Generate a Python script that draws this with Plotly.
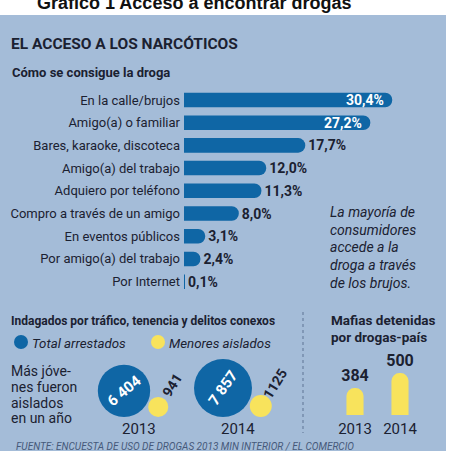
import math
import plotly.graph_objects as go

W = H = 451

# ---------------- data ----------------
categories = ["En la calle/brujos", "Amigo(a) o familiar", "Bares, karaoke, discoteca",
              "Amigo(a) del trabajo", "Adquiero por teléfono", "Compro a través de un amigo",
              "En eventos públicos", "Por amigo(a) del trabajo", "Por Internet"]
shares = [30.4, 27.2, 17.7, 12.0, 11.3, 8.0, 3.1, 2.4, 0.1]
share_labels = ["30,4%", "27,2%", "17,7%", "12,0%", "11,3%", "8,0%", "3,1%", "2,4%", "0,1%"]

years = [2013, 2014]
year_labels = ["2013", "2014"]
total_arrested = [6404, 7857]
arrested_labels = ["6 404", "7 857"]
minors_isolated = [941, 1125]
minors_labels = ["941", "1125"]

mafia_years = ["2013", "2014"]
mafias = [384, 500]
mafia_labels = ["384", "500"]

note_lines = ["La mayoría de", "consumidores", "accede a la", "droga a través", "de los brujos."]
side_lines = ["Más jóve-", "nes fueron", "aislados", "en un año"]

# ---------------- style ----------------
PANEL = "#a4bcd8"
BLUE = "#0f66a5"
YELLOW = "#f8e35c"
INK = "#1b2131"
FONT = "Roboto, Liberation Sans, sans-serif"


def px(x):
    return x / W


def py(y):
    return 1 - y / H


fig = go.Figure()

# ---- horizontal bars ----
inside = [v > 20 for v in shares]
fig.add_trace(go.Bar(
    y=categories, x=shares, orientation="h",
    marker=dict(color=BLUE, line=dict(width=0)),
    width=0.64,
    text=[("" if ins else t) for t, ins in zip(share_labels, inside)],
    textposition="outside",
    outsidetextfont=dict(color=INK, size=14, family=FONT, weight="bold"),
    constraintext="none", cliponaxis=False,
    xaxis="x", yaxis="y", showlegend=False, hoverinfo="skip",
))

# ---- bubbles ----
SIZEREF = 4.67
PX_PER_YEAR = 99.0
BUBBLE_BASE = 417  # pixel row where bubbles rest


def radius(v):
    return math.sqrt(v / (2 * SIZEREF))


r_blue = [radius(v) for v in total_arrested]
r_yel = [radius(v) for v in minors_isolated]
yel_x = [yr + (rb + 0.8 * ry) / PX_PER_YEAR for yr, rb, ry in zip(years, r_blue, r_yel)]

fig.add_trace(go.Scatter(
    x=years, y=[BUBBLE_BASE - r for r in r_blue], mode="markers",
    marker=dict(size=total_arrested, sizemode="area", sizeref=SIZEREF, color=BLUE,
                line=dict(width=0), opacity=1),
    xaxis="x2", yaxis="y2", showlegend=False, hoverinfo="skip",
))
fig.add_trace(go.Scatter(
    x=yel_x, y=[BUBBLE_BASE - r for r in r_yel], mode="markers",
    marker=dict(size=minors_isolated, sizemode="area", sizeref=SIZEREF, color=YELLOW,
                line=dict(width=0), opacity=1),
    xaxis="x2", yaxis="y2", showlegend=False, hoverinfo="skip",
))

# ---- mafias bars ----
fig.add_trace(go.Bar(
    x=mafia_years, y=mafias, width=0.38,
    marker=dict(color=YELLOW, line=dict(width=0)),
    text=mafia_labels, textposition="outside",
    outsidetextfont=dict(color=INK, size=16, family=FONT, weight="bold"),
    cliponaxis=False, constraintext="none",
    xaxis="x3", yaxis="y3", showlegend=False, hoverinfo="skip",
))

annotations = []


def para(text, x, y, size, bold=False, italic=False, color=INK, family=FONT):
    t = text
    if bold:
        t = f"<b>{t}</b>"
    if italic:
        t = f"<i>{t}</i>"
    annotations.append(dict(text=t, x=px(x), y=py(y), xref="paper", yref="paper",
                            xanchor="left", yanchor="middle", align="left", showarrow=False,
                            font=dict(family=family, size=size, color=color)))


# inside labels of the long bars
for cat, v, lab, ins in zip(categories, shares, share_labels, inside):
    if ins:
        annotations.append(dict(text=f"<b>{lab}</b>", x=v, y=cat, xref="x", yref="y",
                                xanchor="right", yanchor="middle", xshift=-6, showarrow=False,
                                font=dict(family=FONT, size=14, color="white")))

# title (partly cut off at the top edge, as in the reference)
para("Gráfico 1 Acceso a encontrar drogas", 35, 3, 18, bold=True, color="#111",
     family="Liberation Sans, Arial, sans-serif")
para("EL ACCESO A LOS NARCÓTICOS", 9, 44, 15.5, bold=True)
para("Cómo se consigue la droga", 10, 72, 13, bold=True)
for i, line in enumerate(note_lines):
    para(line, 328, 212 + i * 17.7, 14, italic=True)

para("Indagados por tráfico, tenencia y delitos conexos", 9, 321, 12, bold=True)
para("Total arrestados", 30, 343, 13.3, italic=True)
para("Menores aislados", 167, 343, 13.3, italic=True)
for i, line in enumerate(side_lines):
    para(line, 9, 371 + i * 15.8, 14)
para("Mafias detenidas", 329, 320, 13.5, bold=True)
para("por drogas-país", 329, 337, 13.5, bold=True)
para("FUENTE: ENCUESTA DE USO DE DROGAS 2013 MIN INTERIOR / EL COMERCIO", 14, 446, 10,
     italic=True, color="#46597a")

# bubble labels
angles_in = [-40, -55]
for yr, rb, lab, ang in zip(years, r_blue, arrested_labels, angles_in):
    annotations.append(dict(text=f"<b>{lab}</b>", x=yr, y=BUBBLE_BASE - rb, xref="x2", yref="y2",
                            showarrow=False, textangle=ang,
                            font=dict(family=FONT, size=15, color="white")))
for xx, ry, lab in zip(yel_x, r_yel, minors_labels):
    annotations.append(dict(text=f"<b>{lab}</b>", x=xx, y=BUBBLE_BASE - ry, xref="x2", yref="y2",
                            showarrow=False, textangle=-58, xshift=14, yshift=22,
                            font=dict(family=FONT, size=14, color=INK)))
for yr, lab in zip(years, year_labels):
    annotations.append(dict(text=lab, x=yr + 0.15, y=429, xref="x2", yref="y2",
                            showarrow=False, font=dict(family=FONT, size=15, color=INK)))

shapes = [
    dict(type="rect", xref="paper", yref="paper", x0=0, x1=px(446), y0=0, y1=py(15),
         fillcolor=PANEL, line=dict(width=0), layer="below"),
    dict(type="line", xref="paper", yref="paper", x0=px(303), x1=px(303), y0=py(312), y1=py(433),
         line=dict(color="#6a80a0", width=1.2, dash="dot"), layer="below"),
    dict(type="circle", xref="paper", yref="paper", x0=px(14), x1=px(28), y0=py(349), y1=py(335),
         fillcolor=BLUE, line=dict(width=0)),
    dict(type="circle", xref="paper", yref="paper", x0=px(151), x1=px(165), y0=py(349), y1=py(335),
         fillcolor=YELLOW, line=dict(width=0)),
]

x2_r0 = years[0] - 124 / PX_PER_YEAR
x2_r1 = x2_r0 + W / PX_PER_YEAR

fig.update_layout(
    width=W, height=H, margin=dict(l=0, r=0, t=0, b=0),
    paper_bgcolor="white", plot_bgcolor="rgba(0,0,0,0)",
    barcornerradius=8,
    showlegend=False,
    font=dict(family=FONT, color=INK),
    xaxis=dict(domain=[px(184), 1], range=[0, (W - 184) / 6.85], visible=False, fixedrange=True),
    yaxis=dict(domain=[py(293), py(88.6)], type="category", autorange="reversed",
               showgrid=False, zeroline=False, showline=False, ticks="",
               ticklabelstandoff=3,
               tickfont=dict(family=FONT, size=13, color=INK), anchor="x"),
    xaxis2=dict(domain=[0, 1], range=[x2_r0, x2_r1], visible=False, anchor="y2"),
    yaxis2=dict(domain=[0, 1], range=[H, 0], visible=False, anchor="x2"),
    xaxis3=dict(domain=[px(332.5), px(422.5)], type="category", anchor="y3",
                showgrid=False, zeroline=False, showline=False, ticks="",
                ticklabelstandoff=3,
                tickfont=dict(family=FONT, size=15, color=INK)),
    yaxis3=dict(domain=[py(415), py(300)], range=[175, 175 + 115 / 0.129], visible=False, anchor="x3"),
    annotations=annotations,
    shapes=shapes,
)

fig.write_html("out.html")
